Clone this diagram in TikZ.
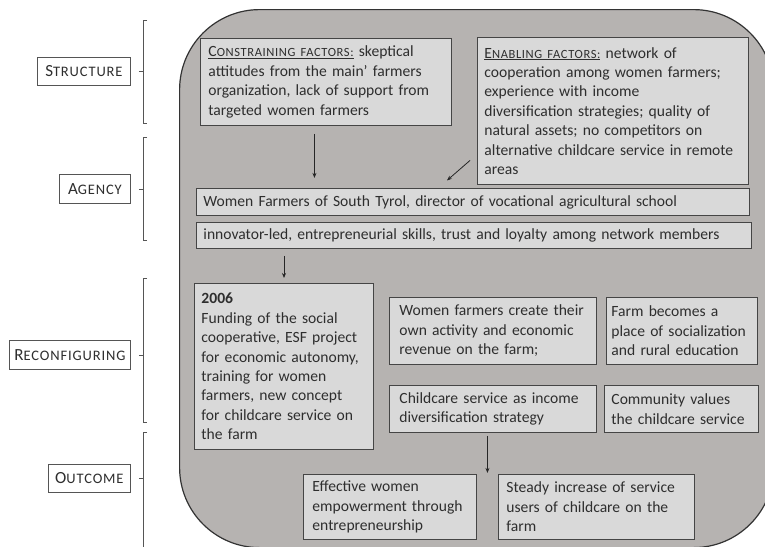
\documentclass[tikz,border=0pt]{standalone}
\usepackage{fontspec}
\setmainfont{Carlito}
\usetikzlibrary{arrows.meta}
\definecolor{panelfill}{HTML}{B6B3B1}
\definecolor{panelline}{HTML}{333333}
\definecolor{boxfill}{HTML}{D9D9D9}
\definecolor{boxline}{HTML}{454545}
\definecolor{labline}{HTML}{555555}
\definecolor{txt}{HTML}{2E2E2E}
\newcommand\scs{\fontsize{12.5}{14}\selectfont\addfontfeatures{LetterSpace=5}}
\newcommand\lsc{\fontsize{14.5}{16}\selectfont\addfontfeatures{LetterSpace=6}}
\hyphenpenalty=10000
\exhyphenpenalty=10000
\begin{document}
\begin{tikzpicture}[x=1pt,y=-1pt,
  box/.style={draw=boxline, line width=0.9pt, fill=boxfill, anchor=north west, inner sep=0pt, align=left, text=txt, font=\fontsize{15.6}{19.4}\selectfont},
  lab/.style={draw=labline, line width=0.8pt, fill=white, anchor=north west, inner sep=0pt, align=center, text=txt, font=\fontsize{17}{20}\selectfont},
  brk/.style={draw=labline, line width=0.8pt},
  arr/.style={draw=black!85, line width=0.8pt, -{Stealth[length=5pt,width=4pt]}}]
\useasboundingbox (0,0) rectangle (765,546);
\fill[white] (0,0) rectangle (765,546);
\node[draw=panelline, line width=1.2pt, fill=panelfill, rounded corners=80pt, anchor=north west, minimum width=594pt, minimum height=538pt, inner sep=0pt] (panel) at (179,9) {};

\node[box, minimum width=251pt, minimum height=87pt, text width=235pt] (cons) at (200,38) {\underline{C{\scs ONSTRAINING FACTORS:}} skeptical\\attitudes from the main’ farmers\\organization, lack of support from\\targeted women farmers};
\node[box, minimum width=271pt, minimum height=147pt, text width=257pt] (enab) at (477,37) {\underline{E{\scs NABLING FACTORS:}} network of\\cooperation among women farmers;\\experience with income\\diversification strategies; quality of\\natural assets; no competitors on\\alternative childcare service in remote\\areas};
\node[box, minimum width=553pt, minimum height=27pt, text width=539pt] (wf) at (196,188) {Women Farmers of South Tyrol, director of vocational agricultural school};
\node[box, minimum width=555pt, minimum height=26pt, text width=541pt] (inn) at (196,222) {innovator-led, entrepreneurial skills, trust and loyalty among network members};
\node[box, minimum width=179pt, minimum height=166pt, text width=165pt] (y2006) at (194,283) {\textbf{2006}\\Funding of the social\\cooperative, ESF project\\for economic autonomy,\\training for women\\farmers, new concept\\for childcare service on\\the farm};
\node[box, minimum width=207pt, minimum height=67pt, text width=187pt] (create) at (389,297) {Women farmers create their\\own activity and economic\\revenue on the farm;};
\node[box, minimum width=151pt, minimum height=67pt, text width=141pt] (farm) at (606,297) {Farm becomes a\\place of socialization\\and rural education};
\node[box, minimum width=207pt, minimum height=47pt, text width=187pt] (child) at (389,385) {Childcare service as income\\diversification strategy};
\node[box, minimum width=154pt, minimum height=47pt, text width=140pt] (comm) at (604,385) {Community values\\the childcare service};
\node[box, minimum width=173pt, minimum height=65pt, text width=155pt] (eff) at (303,474) {Effective women\\empowerment through\\entrepreneurship};
\node[box, minimum width=196pt, minimum height=65pt, text width=180pt] (steady) at (498,474) {Steady increase of service\\users of childcare on the\\farm};

\draw[arr] ([xshift=-11.5pt,yshift=-8pt]cons.south) -- ++(0,44);
\draw[arr] ([xshift=-7pt,yshift=-49.5pt]enab.west) -- ++(-23,20);
\draw[arr] ([xshift=88pt,yshift=-7pt]inn.south west) -- ([xshift=90pt,yshift=5pt]y2006.north west);
\draw[arr] ([xshift=-5.5pt,yshift=-3pt]child.south) -- ++(0,37);

\node[lab, minimum width=93pt, minimum height=28pt] (lstruct) at (37,57) {S{\lsc TRUCTURE}};
\node[lab, minimum width=71pt, minimum height=29pt] (lagency) at (59,174) {A{\lsc GENCY}};
\node[lab, minimum width=121pt, minimum height=29pt] (lreconf) at (9,340) {R{\lsc ECONFIGURING}};
\node[lab, minimum width=82pt, minimum height=28pt] (loutc) at (48,464) {O{\lsc UTCOME}};

\draw[brk] (147,20) -- (143,20) -- (143,123) -- (147,123);
\draw[brk] (147,137) -- (143,137) -- (143,240) -- (147,240);
\draw[brk] (147,278) -- (143,278) -- (143,422) -- (147,422);
\draw[brk] (147,432) -- (143,432) -- (143,560);
\draw[brk] ([xshift=8pt]lstruct.east) -- ++(5,0);
\draw[brk] ([xshift=8pt]lagency.east) -- ++(5,0);
\draw[brk] ([xshift=8pt]lreconf.east) -- ++(5,0);
\draw[brk] ([xshift=8pt]loutc.east) -- ++(5,0);
\end{tikzpicture}
\end{document}
